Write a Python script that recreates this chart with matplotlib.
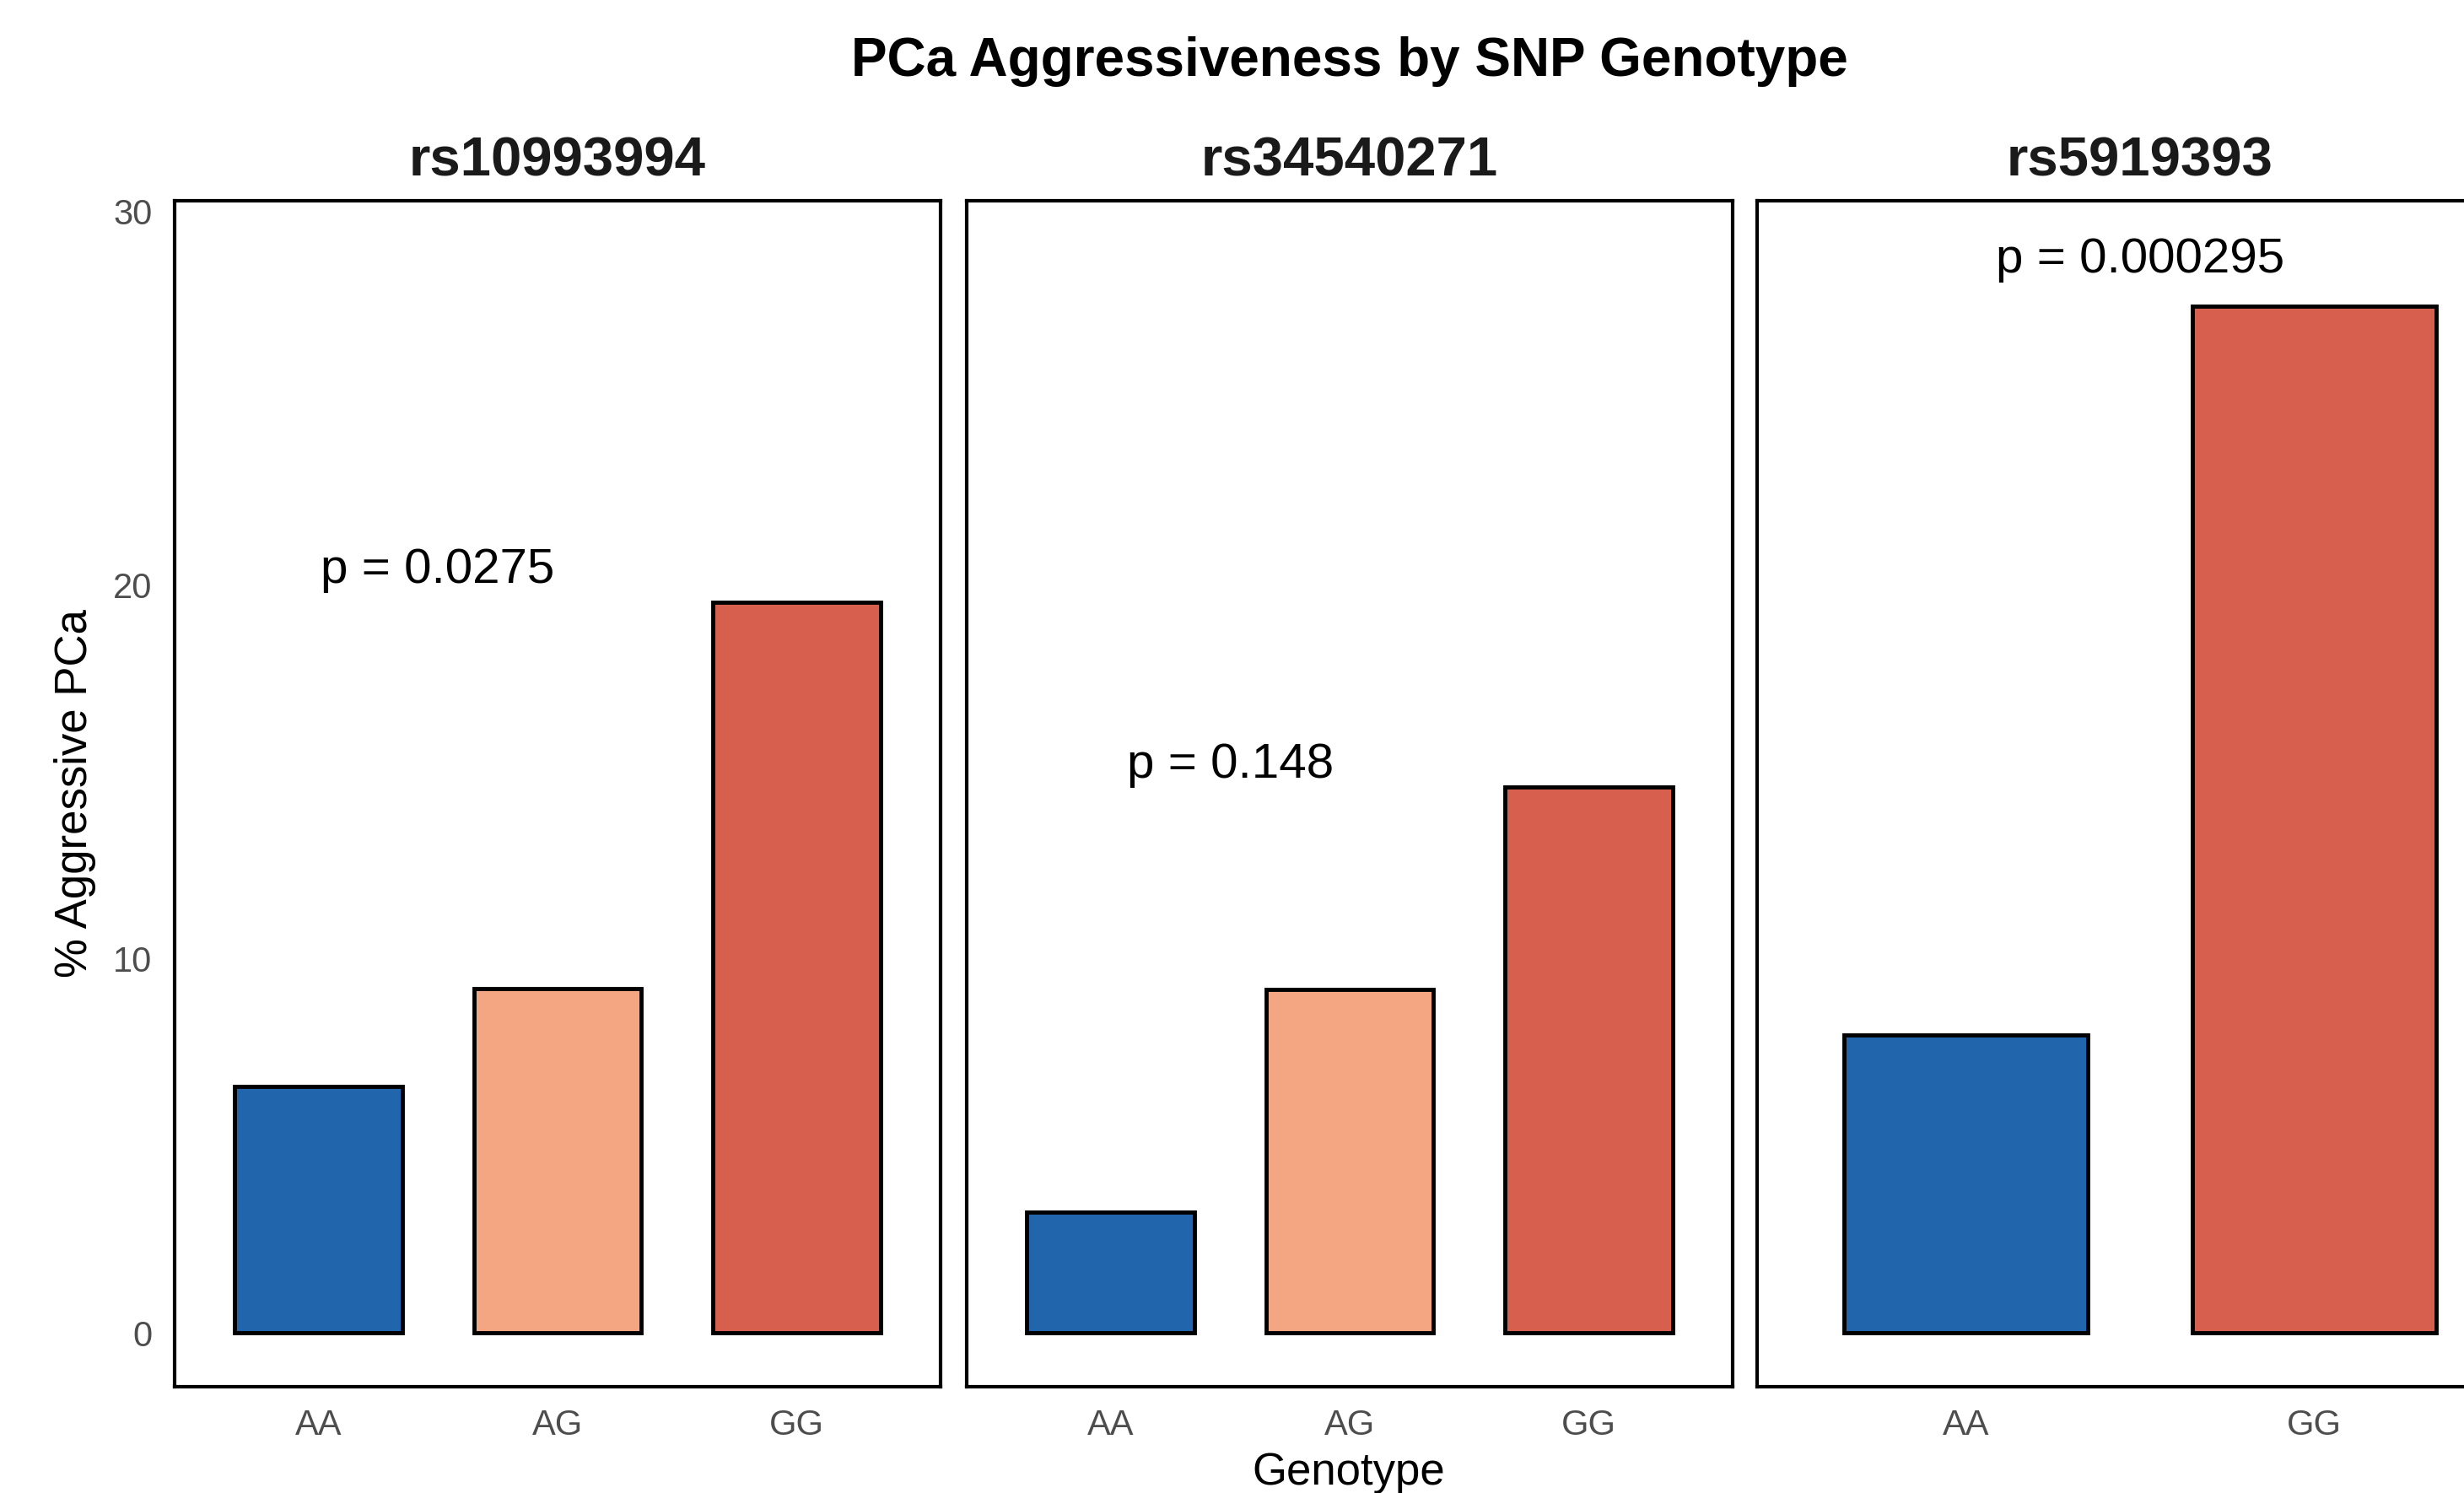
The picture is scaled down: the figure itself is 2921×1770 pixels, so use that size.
#!/usr/bin/env python
# coding: utf-8

import numpy as np
import matplotlib
matplotlib.use('Agg')
import matplotlib.pyplot as plt


# Data
snps = ['rs10993994', 'rs34540271', 'rs5919393']
genotypes = [['AA', 'AG', 'GG'], ['AA', 'AG', 'GG'], ['AA', 'GG']]
pct_aggressive = [[6.6, 9.2, 19.55], [3.23, 9.18, 14.6], [7.96, 27.47]]
p_values = ['0.0275', '0.148', '0.000295']
y_ticks = [0, 10, 20, 30]

geno_colors = {'AA': '#2166AC', 'AG': '#F4A582', 'GG': '#D6604D'}

plt.rcParams['font.family'] = ['Liberation Sans', 'DejaVu Sans']

W, H, DPI = 2921, 1770, 100


def px_box(left, top, right, bottom):
	'''Convert a pixel box to figure fractions'''
	return [left / W, 1 - bottom / H, (right - left) / W, (bottom - top) / H]


def plot_panel(ax, snp, genos, vals, pval, ymin, ymax, first):
	x = np.arange(1, len(genos) + 1)
	ax.bar(x, vals, width=0.7, color=[geno_colors[g] for g in genos],
		edgecolor='black', linewidth=3.5, zorder=2)
	# p-value label: between the first two groups, 5% above the tallest bar
	ax.text(1.5, max(vals) * 1.05, f'p = {pval}', ha='center',
		va='center_baseline', fontsize=42, color='black')
	ax.set_xlim(0.4, len(genos) + 0.6)
	ax.set_ylim(ymin, ymax)
	ax.set_xticks(x)
	ax.set_xticklabels(genos)
	ax.set_yticks(y_ticks)
	if not first:
		ax.set_yticklabels([])
	ax.tick_params(length=0, labelsize=30, labelcolor='#4D4D4D', pad=19)
	for s in ax.spines.values():
		s.set_linewidth(3)
		s.set_color('black')
	ax.set_title(snp, fontsize=47, fontweight='bold', color='#1A1A1A', pad=21.5)


fig = plt.figure(figsize=(W / DPI, H / DPI), dpi=DPI)

# y range padded the way ggplot does (5% of the data span)
top = max(max(v) for v in pct_aggressive) * 1.05
ymin, ymax = -0.05 * top, top * 1.05

lefts = [207, 1146, 2083]
for i, snp in enumerate(snps):
	ax = fig.add_axes(px_box(lefts[i], 238, lefts[i] + 908, 1644))
	plot_panel(ax, snp, genotypes[i], pct_aggressive[i], p_values[i],
		ymin, ymax, i == 0)

fig.text(1600 / W, 1 - 43 / H, 'PCa Aggressiveness by SNP Genotype',
	ha='center', va='top', fontsize=46, fontweight='bold')
fig.text(1599 / W, 1 - 1721 / H, 'Genotype', ha='center', va='top', fontsize=38)
fig.text(89 / W, 1 - 941 / H, '% Aggressive PCa', ha='center', va='center',
	rotation=90, fontsize=38)

plt.savefig('out.png', dpi=DPI, facecolor='white')
plt.close()
